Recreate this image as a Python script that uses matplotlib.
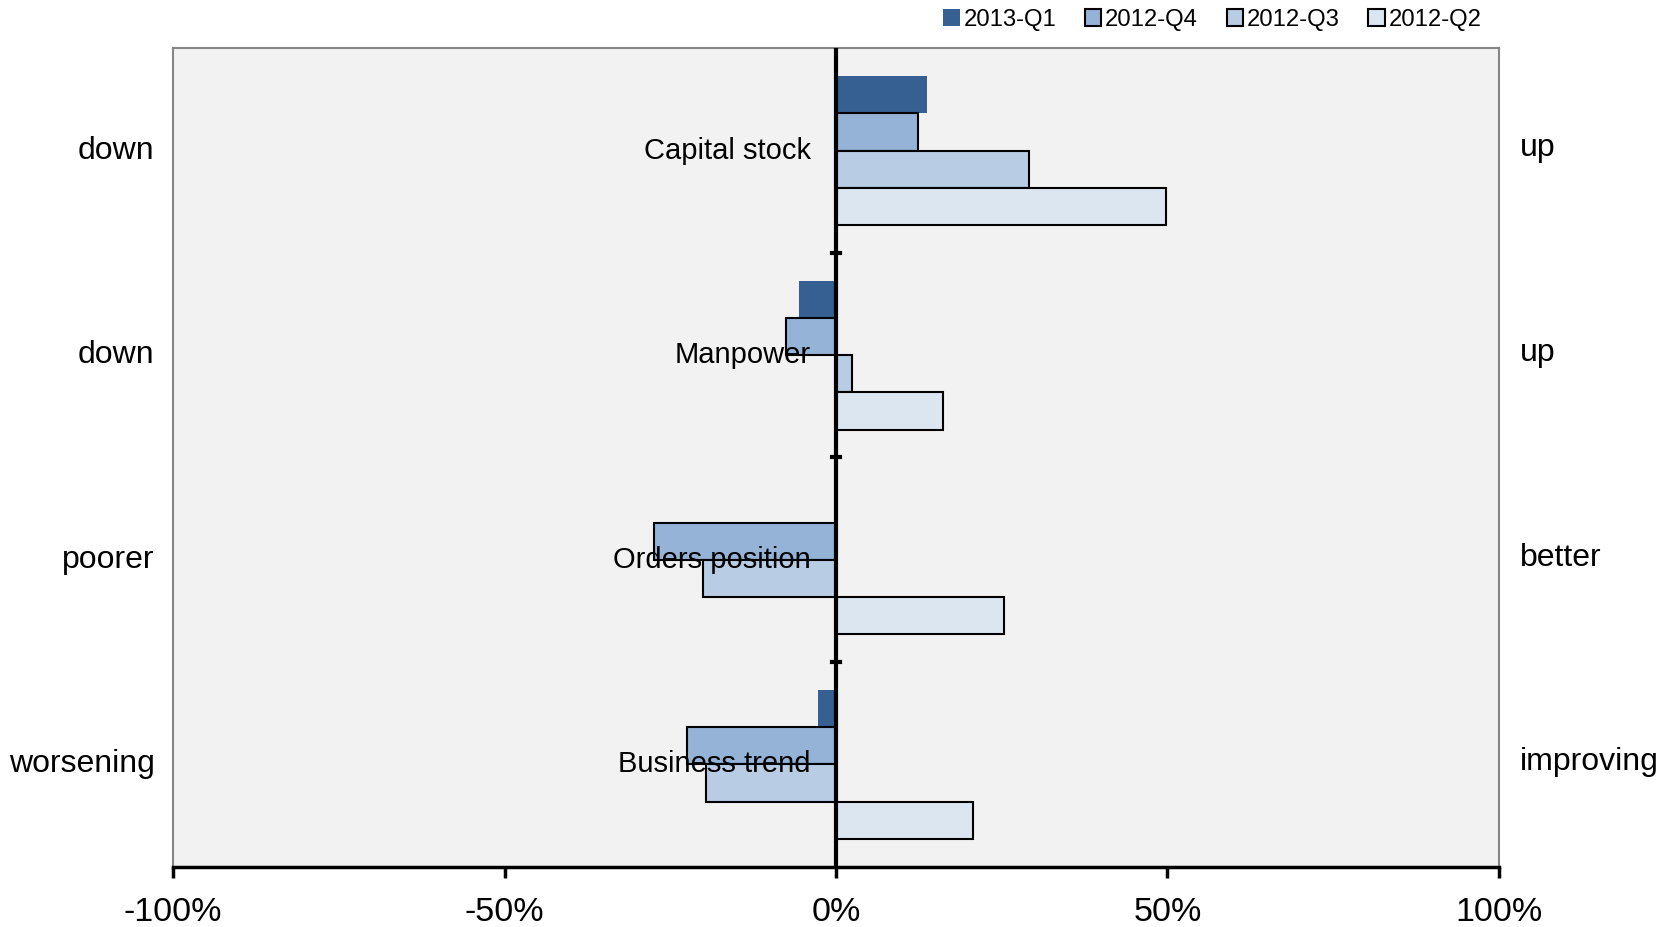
import numpy as np
import matplotlib.pyplot as plt

plt.rcParams['font.family'] = ['Liberation Sans', 'DejaVu Sans']

categories = ['Capital stock', 'Manpower', 'Orders position', 'Business trend']
left_labels = ['down', 'down', 'poorer', 'worsening']
right_labels = ['up', 'up', 'better', 'improving']
series = ['2013-Q1', '2012-Q4', '2012-Q3', '2012-Q2']
q1_2013 = [13.7, -5.6, 0.0, -2.7]
q4_2012 = [12.4, -7.6, -27.5, -22.5]
q3_2012 = [29.1, 2.4, -20.1, -19.6]
q2_2012 = [49.8, 16.1, 25.4, 20.7]
values = [q1_2013, q4_2012, q3_2012, q2_2012]
colors = ['#366092', '#95b3d7', '#b8cce4', '#dce6f1']
edges = ['none', 'black', 'black', 'black']

fig = plt.figure(figsize=(16.72, 9.27), dpi=100)
ax = fig.add_axes([0.1035, 0.065, 0.793, 0.883])
ax.set_facecolor('#f2f2f2')

y = np.arange(len(categories))
h = 0.182
for i, (vals, c, e) in enumerate(zip(values, colors, edges)):
    ax.barh(y + (i - 1.5) * h, vals, height=h, color=c, edgecolor=e,
            linewidth=1.5, label=series[i], zorder=2)

ax.set_xlim(-100, 100)
ax.set_ylim(3.5, -0.5)
ax.set_xticks([-100, -50, 0, 50, 100])
ax.set_xticklabels(['-100%', '-50%', '0%', '50%', '100%'], fontsize=24.5)
ax.tick_params(axis='x', length=8, width=2.5, pad=14)
ax.set_yticks([])

# zero line and its small ticks at group boundaries
ax.axvline(0, color='black', lw=3, zorder=3)
for b in [0.5, 1.5, 2.5]:
    ax.plot([-0.6, 0.6], [b, b], color='black', lw=3, zorder=3, clip_on=False)

for s in ['left', 'right', 'top']:
    ax.spines[s].set_color('#868686')
    ax.spines[s].set_linewidth(1.5)
ax.spines['bottom'].set_color('black')
ax.spines['bottom'].set_linewidth(2.5)

for i, cat in enumerate(categories):
    ax.text(-3.8, i, cat, ha='right', va='center', fontsize=21, zorder=4)
    ax.text(-102.8, i, left_labels[i], ha='right', va='center', fontsize=23)
    ax.text(103.2, i - 0.01, right_labels[i], ha='left', va='center', fontsize=23)

leg = ax.legend(loc='lower right', bbox_to_anchor=(0.987, 1.021), ncol=4,
                frameon=False, fontsize=17.2, handlelength=0.7, handleheight=0.7,
                handletextpad=0.15, columnspacing=1.2, borderaxespad=0.0,
                borderpad=0.0)

fig.savefig('out.png', dpi=100)
